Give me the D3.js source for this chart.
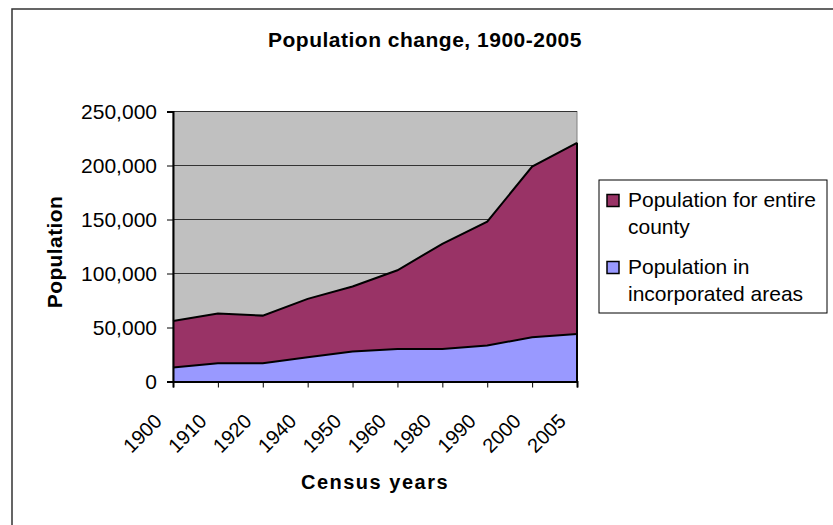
<!DOCTYPE html>
<html>
<head>
<meta charset="utf-8">
<script src="https://cdn.jsdelivr.net/npm/d3@7"></script>
<style>
  body { margin: 0; background: #fff; }
  text { font-family: "Liberation Sans", Arial, sans-serif; fill: #000; }
</style>
</head>
<body>
<div id="theChart"></div>
<script>
const years = ["1900", "1910", "1920", "1940", "1950", "1960", "1980", "1990", "2000", "2005"]
const totalPop = [56000, 63000, 61000, 76500, 88000, 103000, 127500, 148000, 199000, 221000]
const incorporatedPop = [13000, 17000, 17000, 22500, 27800, 30000, 30000, 33300, 41000, 44000]
const yTicks = [0, 50000, 100000, 150000, 200000, 250000]
const seriesNames = [["Population for entire", "county"], ["Population in", "incorporated areas"]]
const seriesColors = ["#993366", "#9999ff"]

const w = 833
const h = 525
const plot = { left: 173, right: 577, top: 111.5, bottom: 381.5 }

const svg = d3.select("#theChart")
	.append("svg")
	.attr("width", w)
	.attr("height", h)

// outer chart frame (runs off the right / bottom edge like the original)
svg.append("rect")
	.attr("x", 12)
	.attr("y", 9)
	.attr("width", 840)
	.attr("height", 540)
	.attr("fill", "#fff")
	.attr("stroke", "#333")
	.attr("stroke-width", 1.5)

const x = d3.scalePoint().domain(years).range([plot.left, plot.right])
const y = d3.scaleLinear().domain([0, 250000]).range([plot.bottom, plot.top])

// plot background
svg.append("rect")
	.attr("x", plot.left)
	.attr("y", plot.top)
	.attr("width", plot.right - plot.left)
	.attr("height", plot.bottom - plot.top)
	.attr("fill", "#c0c0c0")
	.attr("stroke", "#808080")

// gridlines
svg.append("g")
	.selectAll("line")
	.data(yTicks.slice(1))
	.enter()
	.append("line")
	.attr("x1", plot.left)
	.attr("x2", plot.right)
	.attr("y1", d => y(d))
	.attr("y2", d => y(d))
	.attr("stroke", "#333")
	.attr("stroke-width", 1)

const area = d3.area()
	.x((d, i) => x(years[i]))
	.y0(y(0))
	.y1(d => y(d))

const line = d3.line()
	.x((d, i) => x(years[i]))
	.y(d => y(d))

;[totalPop, incorporatedPop].forEach((vals, k) => {
	svg.append("path")
		.datum(vals)
		.attr("d", area)
		.attr("fill", seriesColors[k])
	svg.append("path")
		.datum(vals)
		.attr("d", line)
		.attr("fill", "none")
		.attr("stroke", "#000")
		.attr("stroke-width", 2)
	// right edge of the area
	svg.append("line")
		.attr("x1", x(years[years.length - 1]))
		.attr("x2", x(years[years.length - 1]))
		.attr("y1", y(vals[vals.length - 1]))
		.attr("y2", y(0))
		.attr("stroke", "#000")
		.attr("stroke-width", 2)
})

// y axis
const yAxis = svg.append("g")
	.attr("transform", `translate(${plot.left},0)`)
	.call(d3.axisLeft(y).tickValues(yTicks).tickFormat(d3.format(",")).tickSize(6).tickPadding(10))
yAxis.select(".domain").attr("stroke", "#000").attr("stroke-width", 2)
yAxis.selectAll(".tick line").attr("stroke", "#000")
yAxis.selectAll("text")
	.style("font-size", "21px")
	.attr("font-family", null)

// x axis
const xAxis = svg.append("g")
	.attr("transform", `translate(0,${plot.bottom})`)
	.call(d3.axisBottom(x).tickSize(6).tickFormat(""))
xAxis.select(".domain").attr("stroke", "#000").attr("stroke-width", 2)
xAxis.selectAll(".tick line").attr("stroke", "#000")

svg.append("g")
	.selectAll("text")
	.data(years)
	.enter()
	.append("text")
	.attr("transform", d => `translate(${x(d) - 10},${plot.bottom + 41}) rotate(-45)`)
	.attr("text-anchor", "end")
	.style("font-size", "20px")
	.text(d => d)

// title and axis titles
svg.append("text")
	.attr("x", 425)
	.attr("y", 47)
	.attr("text-anchor", "middle")
	.style("font-size", "21px")
	.style("font-weight", "bold")
	.style("letter-spacing", "0.5px")
	.text("Population change, 1900-2005")

svg.append("text")
	.attr("transform", "translate(62,252) rotate(-90)")
	.attr("text-anchor", "middle")
	.style("font-size", "21px")
	.style("font-weight", "bold")
	.style("letter-spacing", "0.4px")
	.text("Population")

svg.append("text")
	.attr("x", 375)
	.attr("y", 489)
	.attr("text-anchor", "middle")
	.style("font-size", "20px")
	.style("font-weight", "bold")
	.style("letter-spacing", "1.5px")
	.text("Census years")

// legend
const legend = svg.append("g").attr("transform", "translate(599,180)")
legend.append("rect")
	.attr("width", 228)
	.attr("height", 133)
	.attr("fill", "#fff")
	.attr("stroke", "#000")

const entries = legend.selectAll("g")
	.data(seriesNames)
	.enter()
	.append("g")
	.attr("transform", (d, i) => `translate(0,${i * 67})`)

entries.append("rect")
	.attr("x", 8)
	.attr("y", 14.5)
	.attr("width", 12)
	.attr("height", 12)
	.attr("fill", (d, i) => seriesColors[i])
	.attr("stroke", "#000")
	.attr("stroke-width", 1.5)

entries.each(function (lines) {
	d3.select(this)
		.selectAll("text")
		.data(lines)
		.enter()
		.append("text")
		.attr("x", 29)
		.attr("y", (d, j) => 27 + j * 26.5)
		.style("font-size", "21px")
		.text(d => d)
})
</script>
</body>
</html>
